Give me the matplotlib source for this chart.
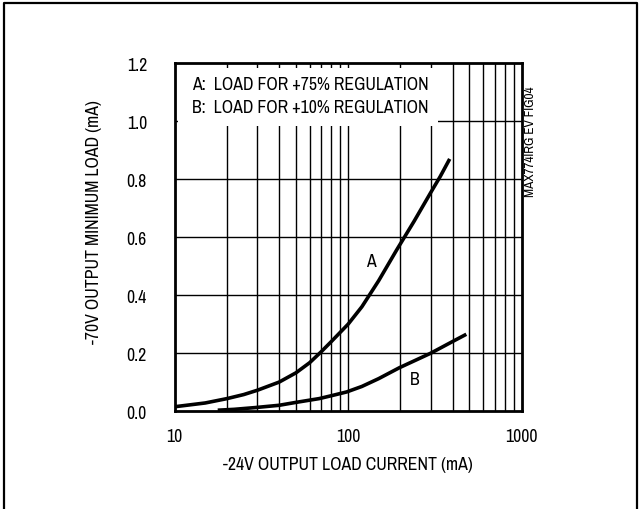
import numpy as np
import matplotlib
matplotlib.use('Agg')
import matplotlib.pyplot as plt
from matplotlib.patches import Rectangle
from matplotlib import font_manager

# pick a condensed sans font, like the Helvetica Condensed of the datasheet
names = set(f.name for f in font_manager.fontManager.ttflist)
wanted = ['Liberation Sans Narrow', 'Arial Narrow', 'Archivo Narrow', 'Roboto Condensed',
          'PT Sans Narrow', 'Fira Sans Condensed', 'IBM Plex Sans Condensed',
          'Encode Sans Condensed', 'Sofia Sans Condensed', 'Pragati Narrow']
family = 'Liberation Sans'
for w in wanted:
    if w in names:
        family = w
        break
plt.rcParams['font.family'] = [family, 'DejaVu Sans']

# curve A: load for +75% regulation
a_current = [10, 15, 20, 25, 30, 40, 50, 60, 70, 80, 100, 120, 150, 190, 240,
             300, 340, 385]
a_load = [0.015, 0.028, 0.043, 0.057, 0.072, 0.10, 0.132, 0.167, 0.205, 0.24,
          0.30, 0.36, 0.45, 0.555, 0.655, 0.755, 0.81, 0.87]

# curve B: load for +10% regulation
b_current = [17.7, 22, 29, 40, 50, 68, 80, 98, 120, 150, 198, 250, 300, 400, 480]
b_load = [0.003, 0.006, 0.012, 0.02, 0.03, 0.043, 0.053, 0.066, 0.085, 0.112,
          0.15, 0.178, 0.20, 0.24, 0.265]

y_ticks = [0.0, 0.2, 0.4, 0.6, 0.8, 1.0, 1.2]
x_ticks = [10, 100, 1000]
x_grid = [20, 30, 40, 50, 60, 70, 80, 90, 100, 200, 300, 400, 500, 600, 700, 800, 900]

fs = 12.8

fig = plt.figure(figsize=(6.4, 5.1), dpi=100)
ax = fig.add_axes([0.273, 0.192, 0.542, 0.682])

ax.set_xscale('log')
ax.set_xlim(10, 1000)
ax.set_ylim(0, 1.2)

# grid lines
ax.vlines(x_grid, 0, 1.2, colors='black', lw=1.0, zorder=1)
ax.hlines(y_ticks[1:-1], 10, 1000, colors='black', lw=1.0, zorder=1)

# white box behind the legend text
ax.add_patch(Rectangle((10.4, 0.985), 330 - 10.4, 1.182 - 0.985,
                       facecolor='white', edgecolor='none', zorder=2))

ax.plot(a_current, a_load, color='black', lw=2.6, zorder=3, solid_capstyle='butt')
ax.plot(b_current, b_load, color='black', lw=2.6, zorder=3, solid_capstyle='butt')

ax.text(136, 0.517, 'A', fontsize=fs, ha='center', va='center', zorder=4)
ax.text(241, 0.11, 'B', fontsize=fs, ha='center', va='center', zorder=4)

ax.text(12.6, 1.13, 'A:  LOAD FOR +75% REGULATION', fontsize=fs, va='center', zorder=4)
ax.text(12.6, 1.05, 'B:  LOAD FOR +10% REGULATION', fontsize=fs, va='center', zorder=4)

ax.set_xticks(x_ticks)
ax.set_xticklabels([str(t) for t in x_ticks])
ax.xaxis.set_minor_locator(matplotlib.ticker.NullLocator())
ax.set_yticks(y_ticks)
ax.set_yticklabels(['%.1f' % t for t in y_ticks])
ax.tick_params(length=0, labelsize=fs)
ax.tick_params(axis='y', pad=20)
ax.tick_params(axis='x', pad=12)

for s in ax.spines.values():
    s.set_linewidth(2.0)
    s.set_zorder(5)

ax.set_xlabel('-24V OUTPUT LOAD CURRENT (mA)', fontsize=fs, labelpad=9)
ax.set_ylabel('-70V OUTPUT MINIMUM LOAD (mA)', fontsize=fs)
ax.yaxis.set_label_coords(-0.21, 0.546)

fig.text(531 / 640, 1 - 142 / 510, 'MAX774IRG EV FIG04', fontsize=9.5,
         rotation=90, ha='center', va='center')

# outer frame (left, top, right)
fig.add_artist(plt.Line2D([4 / 640, 4 / 640, 637 / 640, 637 / 640],
                          [0, 1 - 4 / 510, 1 - 4 / 510, 0],
                          color='black', lw=1.6, transform=fig.transFigure))

fig.savefig('out.png', dpi=100)
